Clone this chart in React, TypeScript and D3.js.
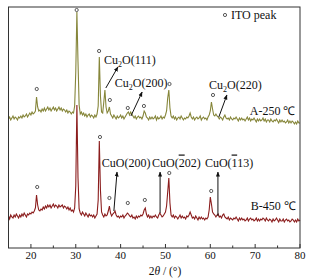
import React from "react";
import * as d3 from "d3";

// XRD patterns, 2θ from 15° to 80° every 0.25°, intensity in a.u.
const twoTheta = d3.range(0, 261).map((i) => 15 + i * 0.25);

// A-250 ℃ (olive)
const sampleA = [
  129, 131, 128, 130, // 15
  132, 129, 131, 130,
  128, 131, 130, 132,
  130, 133, 131, 132,
  134, 131, 133, 135,
  133, 136, 134, 135, // 20
  137, 151, 141, 137,
  138, 136, 139, 137,
  140, 137, 139, 141,
  138, 140, 137, 139,
  141, 138, 140, 137, // 25
  139, 141, 138, 140,
  137, 139, 138, 136,
  138, 135, 137, 136,
  134, 136, 135, 142,
  176, 236, 186, 143, // 30
  134, 136, 133, 135,
  132, 134, 131, 133,
  134, 131, 133, 132,
  130, 133, 131, 134,
  142, 191, 152, 136, // 35
  135, 146, 158, 141,
  135, 137, 141, 134,
  132, 130, 133, 131,
  129, 132, 130, 131,
  133, 130, 132, 129, // 40
  131, 133, 135, 136,
  133, 136, 134, 132,
  130, 132, 129, 131,
  132, 130, 131, 129,
  132, 137, 135, 131, // 45
  130, 128, 131, 129,
  131, 129, 130, 132,
  128, 131, 129, 130,
  132, 129, 131, 130,
  133, 137, 150, 158, // 50
  140, 132, 130, 132,
  129, 131, 128, 130,
  131, 129, 132, 130,
  128, 130, 129, 131,
  130, 132, 135, 131, // 55
  129, 131, 128, 130,
  131, 129, 130, 132,
  128, 130, 131, 129,
  130, 128, 131, 133,
  137, 146, 139, 133, // 60
  132, 134, 132, 131,
  129, 131, 130, 128,
  131, 133, 130, 129,
  130, 128, 131, 129,
  128, 130, 129, 131, // 65
  129, 127, 130, 128,
  130, 128, 129, 127,
  129, 131, 128, 130,
  127, 129, 128, 130,
  128, 126, 129, 127, // 70
  129, 127, 128, 130,
  127, 129, 126, 128,
  128, 126, 129, 127,
  126, 128, 127, 129,
  127, 125, 128, 126, // 75
  128, 126, 127, 125,
  126, 128, 125, 127,
  125, 127, 126, 124,
  126, 124, 127, 125,
  125, // 80
];

// B-450 ℃ (dark red)
const sampleB = [
  32, 29, 33, 31, // 15
  30, 33, 31, 34,
  32, 30, 33, 31,
  34, 32, 35, 33,
  31, 34, 33, 35,
  34, 36, 35, 37, // 20
  40, 53, 43, 38,
  37, 39, 38, 41,
  39, 42, 40, 43,
  41, 43, 40, 42,
  44, 41, 43, 42, // 25
  40, 43, 41, 42,
  43, 40, 42, 41,
  39, 41, 38, 40,
  37, 38, 36, 40,
  62, 143, 70, 39, // 30
  35, 33, 36, 34,
  32, 35, 33, 31,
  34, 32, 33, 31,
  33, 30, 32, 34,
  48, 107, 58, 36, // 35
  33, 31, 34, 32,
  33, 37, 42, 35,
  32, 34, 35, 37,
  33, 31, 32, 30,
  32, 31, 33, 30, // 40
  32, 33, 35, 34,
  32, 31, 33, 30,
  31, 29, 32, 30,
  32, 31, 33, 32,
  34, 38, 40, 34, // 45
  31, 33, 30, 32,
  30, 32, 31, 33,
  31, 30, 33, 35,
  33, 31, 32, 34,
  36, 42, 56, 70, // 50
  45, 33, 31, 33,
  30, 32, 31, 29,
  31, 33, 30, 32,
  30, 31, 29, 32,
  31, 33, 36, 33, // 55
  30, 31, 29, 32,
  30, 28, 31, 29,
  31, 29, 30, 28,
  30, 29, 31, 38,
  51, 44, 36, 34, // 60
  33, 31, 33, 34,
  31, 32, 30, 33,
  34, 31, 30, 29,
  31, 28, 30, 29,
  28, 30, 29, 31, // 65
  29, 27, 30, 28,
  30, 28, 29, 27,
  28, 30, 27, 29,
  30, 28, 29, 27,
  28, 30, 27, 29, // 70
  27, 29, 28, 30,
  29, 27, 30, 28,
  27, 29, 28, 26,
  29, 27, 28, 30,
  28, 26, 29, 27, // 75
  27, 29, 26, 28,
  29, 27, 28, 26,
  27, 29, 28, 26,
  28, 26, 29, 27,
  28, // 80
];

// ITO peak markers [2θ, intensity]
const itoA = [
  [21.3, 159], [30.2, 238], [35.2, 197], [37.6, 148],
  [41.6, 140], [45.2, 142], [50.9, 164], [60.6, 153],
];
const itoB = [
  [21.4, 61], [35.4, 111], [37.5, 50], [41.6, 45],
  [45.4, 48], [50.85, 75], [60.2, 57],
];

const xTicks = [20, 30, 40, 50, 60, 70, 80];
const xMinorTicks = [25, 35, 45, 55, 65, 75];

type Part = { t: string; sub?: boolean; bar?: boolean };

// phase labels: text anchor and arrow tail/head, in [2θ, intensity]
const phaseLabels: { parts: Part[]; at: number[]; from: number[]; to: number[] }[] = [
  { parts: [{ t: "Cu" }, { t: "2", sub: true }, { t: "O(111)" }], at: [36.3, 184], from: [36.7, 160], to: [39.4, 181] },
  { parts: [{ t: "Cu" }, { t: "2", sub: true }, { t: "O(200)" }], at: [38.7, 161.5], from: [42.3, 132], to: [44.8, 156] },
  { parts: [{ t: "Cu" }, { t: "2", sub: true }, { t: "O(220)" }], at: [59.7, 159], from: [61.9, 131], to: [63.7, 153] },
  { parts: [{ t: "CuO(200)" }], at: [35.8, 81.5], from: [38.5, 37], to: [39.2, 76] },
  { parts: [{ t: "CuO(" }, { t: "2", bar: true }, { t: "02)" }], at: [47.0, 81.5], from: [48.8, 35], to: [48.8, 76] },
  { parts: [{ t: "CuO(" }, { t: "1", bar: true }, { t: "13)" }], at: [58.8, 81.5], from: [61.7, 32], to: [61.7, 76] },
];

const sampleNames = [
  { name: "A-250 ℃", at: [68.8, 133] },
  { name: "B-450 ℃", at: [69.0, 38] },
];

const W = 317;
const H = 278;
const left = 8.5, right = 300, top = 7, bottom = 248;
const font = "'Liberation Serif', 'Times New Roman', serif";

const App = () => {
  const x = d3.scaleLinear().domain([15, 80]).range([left, right]);
  const y = d3.scaleLinear().domain([0, 241]).range([bottom, top]);

  const line = d3
    .line<number>()
    .x((d, i) => x(twoTheta[i]))
    .y((d) => y(d));

  const renderParts = (parts: Part[]) =>
    parts.map((p, i) => {
      const afterSub = i > 0 && parts[i - 1].sub;
      if (p.sub)
        return (
          <tspan key={i} fontSize={8} dy={3}>
            {p.t}
          </tspan>
        );
      if (p.bar)
        return (
          <tspan key={i} style={{ textDecoration: "overline" }}>
            {p.t}
          </tspan>
        );
      return (
        <tspan key={i} dy={afterSub ? -3 : undefined}>
          {p.t}
        </tspan>
      );
    });

  return (
    <svg
      width={W}
      height={H}
      style={{ position: "absolute", left: 0, top: 0, background: "#fff" }}
      fontFamily={font}
    >
      <defs>
        <marker id="head" viewBox="0 0 10 10" refX="9" refY="5" markerWidth="5" markerHeight="5" orient="auto">
          <path d="M0,1 L10,5 L0,9 Z" fill="#111" />
        </marker>
      </defs>

      <path d={line(sampleA) || ""} fill="none" stroke="#86863a" strokeWidth={1.1} />
      <path d={line(sampleB) || ""} fill="none" stroke="#8b1d1d" strokeWidth={1.1} />

      {itoA.concat(itoB).map((d, i) => (
        <circle key={i} cx={x(d[0])} cy={y(d[1])} r={1.6} fill="none" stroke="#333" strokeWidth={0.8} />
      ))}

      {phaseLabels.map((l, i) => (
        <g key={i}>
          <line
            x1={x(l.from[0])}
            y1={y(l.from[1])}
            x2={x(l.to[0])}
            y2={y(l.to[1])}
            stroke="#111"
            strokeWidth={1}
            markerEnd="url(#head)"
          />
          <text x={x(l.at[0])} y={y(l.at[1])} fontSize={12} fill="#111">
            {renderParts(l.parts)}
          </text>
        </g>
      ))}

      {sampleNames.map((s) => (
        <text key={s.name} x={x(s.at[0])} y={y(s.at[1])} fontSize={12} fill="#111">
          {s.name}
        </text>
      ))}

      {/* legend */}
      <circle cx={225} cy={15} r={1.6} fill="none" stroke="#333" strokeWidth={0.8} />
      <text x={231} y={18.5} fontSize={12} fill="#111">
        ITO peak
      </text>

      {/* frame and ticks */}
      <rect x={left} y={top} width={right - left} height={bottom - top} fill="none" stroke="#333" strokeWidth={1} />
      {xTicks.map((t) => (
        <g key={t}>
          <line x1={x(t)} x2={x(t)} y1={bottom} y2={bottom - 4} stroke="#333" />
          <text x={x(t)} y={259} fontSize={11} textAnchor="middle" fill="#111">
            {t}
          </text>
        </g>
      ))}
      {xMinorTicks.map((t) => (
        <line key={t} x1={x(t)} x2={x(t)} y1={bottom} y2={bottom - 2.5} stroke="#333" />
      ))}
      <text x={165} y={275} fontSize={11.5} textAnchor="middle" fill="#111">
        <tspan>2</tspan>
        <tspan fontStyle="italic">θ</tspan>
        <tspan> / (°)</tspan>
      </text>
    </svg>
  );
};

export default App;
